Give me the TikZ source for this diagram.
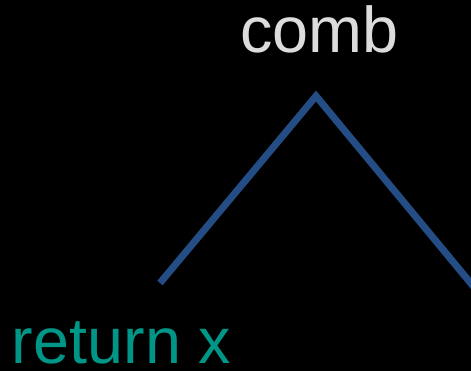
\documentclass[tikz,border=0pt]{standalone}
\usepackage{fontspec}
\setmainfont{Liberation Sans}
\usepackage{tikz}

\definecolor{combgray}{RGB}{220,220,220}
\definecolor{retteal}{RGB}{0,150,135}
\definecolor{edgeblue}{RGB}{37,77,133}

\begin{document}
\begin{tikzpicture}[x=1pt,y=-1pt,every node/.style={inner sep=0pt, outer sep=0pt, font=\fontsize{64.7}{72}\selectfont}]
      \fill[black] (0,0) rectangle (471,371);
      \useasboundingbox (0,0) rectangle (471,371);
      \clip (0,0) rectangle (471,371);
      \coordinate (apex) at (316,96);
      \coordinate (leftend) at (160,283);
      \coordinate (rightend) at (478,292);
      \draw[edgeblue, line width=7pt, line join=miter] (leftend) -- (apex) -- (rightend);
      \node[anchor=base west, text=combgray] (comb) at (240,53) {comb};
      \node[anchor=base west, text=retteal] (ret) at (12,363) {return x};
    \end{tikzpicture}
\end{document}
